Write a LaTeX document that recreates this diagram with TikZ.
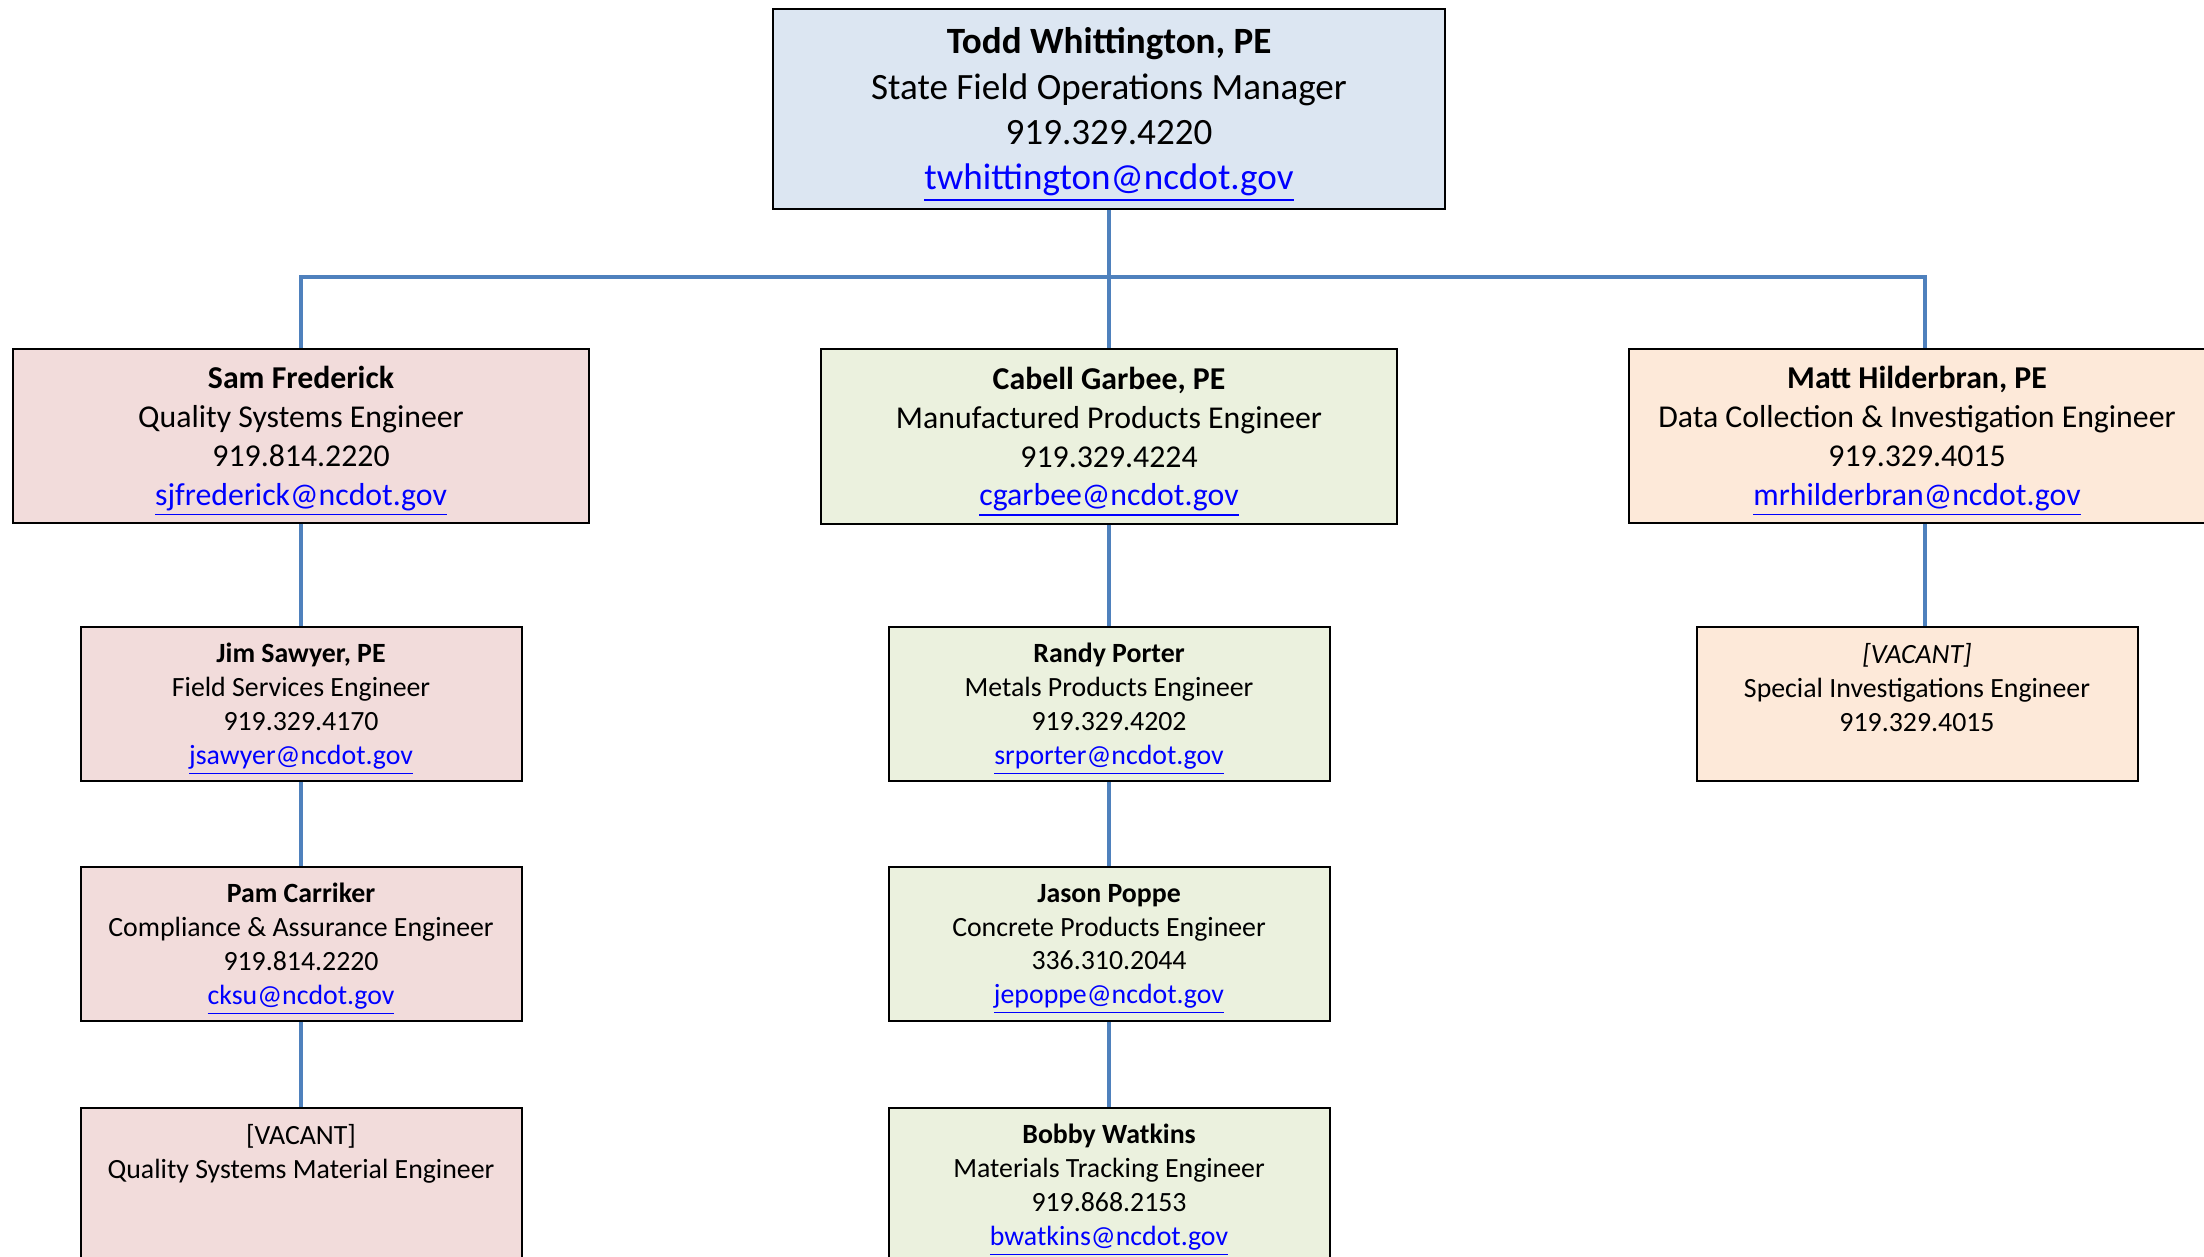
\documentclass[tikz,border=0pt]{standalone}
\usepackage{fontspec}
\setmainfont{Carlito}
\definecolor{bossfill}{HTML}{DCE6F2}
\definecolor{qualfill}{HTML}{F2DCDB}
\definecolor{prodfill}{HTML}{EBF1DE}
\definecolor{datafill}{HTML}{FDE9D9}
\definecolor{wire}{HTML}{4F81BD}
\definecolor{mailblue}{HTML}{0000FF}
\newcommand{\mailto}[1]{\textcolor{mailblue}{\smash{\underline{#1}}}}

\begin{document}
\begin{tikzpicture}[
  card/.style={draw=black, line width=0.75pt, align=center, inner sep=0pt},
  big/.style={card, fill=bossfill, minimum width=253.6pt, minimum height=75.5pt, font=\fontsize{14}{17.1}\selectfont},
  mid/.style={card, minimum width=217.4pt, minimum height=65.7pt, font=\fontsize{12}{14.64}\selectfont},
  small/.style={card, minimum width=166.4pt, minimum height=58.1pt, font=\fontsize{10.5}{12.8}\selectfont},
  link/.style={draw=wire, line width=1.5pt}
]
\useasboundingbox (0,0) rectangle (831.7pt,-474pt);
% manager
\node[big] (todd) at (418.5pt,-41.1pt) {\textbf{Todd Whittington, PE}\\State Field Operations Manager\\919.329.4220\\\mailto{twhittington@ncdot.gov}};
% engineers
\node[mid, fill=qualfill] (sam) at (113.6pt,-164.5pt) {\textbf{Sam Frederick}\\Quality Systems Engineer\\919.814.2220\\\mailto{sjfrederick@ncdot.gov}};
\node[mid, fill=prodfill] (cabell) at (418.5pt,-164.7pt) {\textbf{Cabell Garbee, PE}\\Manufactured Products Engineer\\919.329.4224\\\mailto{cgarbee@ncdot.gov}};
\node[mid, fill=datafill] (matt) at (723.4pt,-164.5pt) {\textbf{Matt Hilderbran, PE}\\Data Collection \& Investigation Engineer\\919.329.4015\\\mailto{mrhilderbran@ncdot.gov}};
% quality systems
\node[small, fill=qualfill] (jim) at (113.6pt,-265.7pt) {\textbf{Jim Sawyer, PE}\\Field Services Engineer\\919.329.4170\\\mailto{jsawyer@ncdot.gov}};
\node[small, fill=qualfill] (pam) at (113.6pt,-356.2pt) {\textbf{Pam Carriker}\\Compliance \& Assurance Engineer\\919.814.2220\\\mailto{cksu@ncdot.gov}};
\node[small, fill=qualfill] (qsm) at (113.6pt,-447.2pt) {[VACANT]\\Quality Systems Material Engineer\\\mbox{}\\\mbox{}};
% manufactured products
\node[small, fill=prodfill] (randy) at (418.5pt,-265.7pt) {\textbf{Randy Porter}\\Metals Products Engineer\\919.329.4202\\\mailto{srporter@ncdot.gov}};
\node[small, fill=prodfill] (jason) at (418.5pt,-356.2pt) {\textbf{Jason Poppe}\\Concrete Products Engineer\\336.310.2044\\\mailto{jepoppe@ncdot.gov}};
\node[small, fill=prodfill] (bobby) at (418.5pt,-447.2pt) {\textbf{Bobby Watkins}\\Materials Tracking Engineer\\919.868.2153\\\mailto{bwatkins@ncdot.gov}};
% data collection
\node[small, fill=datafill] (spec) at (723.4pt,-265.7pt) {\textit{[VACANT]}\\Special Investigations Engineer\\919.329.4015\\\mbox{}};
% connectors
\coordinate (bus) at (418.5pt,-104.5pt);
\draw[link] (todd) -- (cabell);
\draw[link] (sam.north) |- (bus) -| ([xshift=3pt]matt.north);
\draw[link] (sam) -- (jim);
\draw[link] (jim) -- (pam);
\draw[link] (pam) -- (qsm);
\draw[link] (cabell) -- (randy);
\draw[link] (randy) -- (jason);
\draw[link] (jason) -- (bobby);
\draw[link] ([xshift=3pt]matt.south) -- ([xshift=3pt]spec.north);
\end{tikzpicture}
\end{document}
